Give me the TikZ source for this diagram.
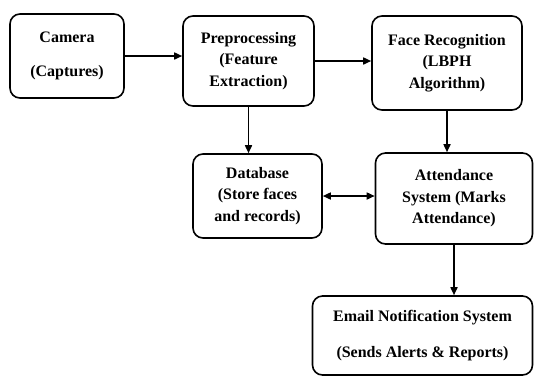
\documentclass[tikz,border=0pt]{standalone}
\usepackage{fontspec}
\setmainfont{Liberation Serif}
\usetikzlibrary{arrows.meta,positioning}
\tikzset{every picture/.style={line width=1.6pt}}
\tikzstyle{blok}=[draw,rounded corners=10pt,align=center,font=\bfseries\fontsize{16}{21.5}\selectfont,inner sep=0pt]

\begin{document}
\begin{tikzpicture}[x=1pt,y=-1pt]
\useasboundingbox (0,0) rectangle (534,376);
\node[blok,minimum width=114pt,minimum height=84pt] (cam) at (67,56) {Camera\\[13pt](Captures)};
\node[blok,minimum width=131pt,minimum height=90pt] (prep) at (248.5,61) {Preprocessing\\(Feature\\Extraction)};
\node[blok,minimum width=150pt,minimum height=94pt] (face) at (447,63) {Face Recognition\\(LBPH\\Algorithm)};
\node[blok,minimum width=129pt,minimum height=84pt] (db) at (257.5,196) {Database\\(Store faces\\and records)};
\node[blok,minimum width=157pt,minimum height=91pt] (att) at (454,198.5) {Attendance\\System (Marks\\Attendance)};
\node[blok,minimum width=220pt,minimum height=79pt] (mail) at (422.5,335.5) {\raisebox{-3pt}{Email Notification System}\\[14pt]\raisebox{-3pt}{(Sends Alerts \& Reports)}};
\path[-{Triangle[length=8pt,width=7pt]}]
(cam.east) edge (cam.east -| prep.west)
(prep.east) edge (prep.east -| face.west)
(prep.south) edge (prep.south |- db.north)
(face.south) edge (face.south |- att.north)
(att.south) edge (att.south |- mail.north);
\draw[{Triangle[length=8pt,width=7pt]}-{Triangle[length=8pt,width=7pt]}] (db.east) -- (db.east -| att.west);
\end{tikzpicture}
\end{document}
